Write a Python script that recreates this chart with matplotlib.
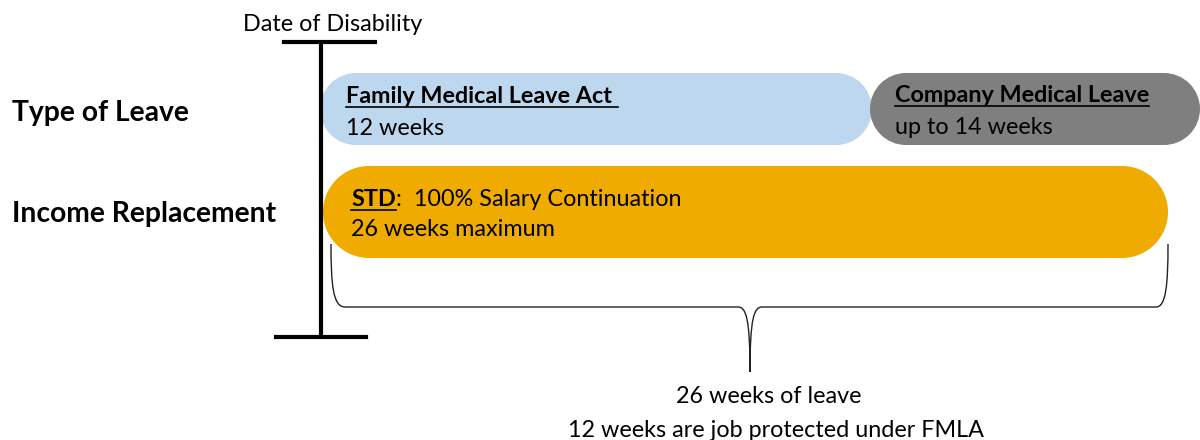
import matplotlib.pyplot as plt
from matplotlib.patches import Rectangle, Circle, PathPatch
from matplotlib.path import Path

plt.rcParams['font.family'] = ['Lato', 'DejaVu Sans']

# content
row_labels = ['Type of Leave', 'Income Replacement']
leave_names = ['Family Medical Leave Act ', 'Company Medical Leave', 'STD']
leave_weeks = [12, 14, 26]
leave_notes = ['{} weeks', 'up to {} weeks', '{} weeks maximum']
std_detail = ':  100% Salary Continuation'
leave_colors = ['#BDD7EE', '#7F7F7F', '#EFAB00']
leave_rows = [0, 0, 1]
marker_label = 'Date of Disability'
summary = ['26 weeks of leave', '12 weeks are job protected under FMLA']

# layout (pixel coordinates, y down)
row_y = [(73, 145), (166, 258)]
bar_x = [(320, 872), (870, 1200), (323, 1168)]
label_y = [121, 222]
timeline_x = 321
fs = 16.8

fig = plt.figure(figsize=(12, 4.4), dpi=100)
ax = fig.add_axes([0, 0, 1, 1])
ax.set_xlim(0, 1200)
ax.set_ylim(440, 0)
ax.axis('off')

# row labels
for lab, y in zip(row_labels, label_y):
    ax.text(12, y, lab, fontsize=20.3, fontweight='bold', va='baseline', ha='left')

# bars as stadium shapes
for (x0, x1), r, c in zip(bar_x, leave_rows, leave_colors):
    y0, y1 = row_y[r]
    rad = (y1 - y0) / 2
    ax.add_patch(Rectangle((x0 + rad, y0), x1 - x0 - 2 * rad, y1 - y0, fc=c, ec='none', zorder=1))
    ax.add_patch(Circle((x0 + rad, y0 + rad), rad, fc=c, ec='none', zorder=1))
    ax.add_patch(Circle((x1 - rad, y0 + rad), rad, fc=c, ec='none', zorder=1))

# timeline marker
ax.plot([timeline_x, timeline_x], [42, 337], color='black', lw=3, zorder=5, solid_capstyle='butt')
ax.plot([284, 375], [42, 42], color='black', lw=3, zorder=5)
ax.plot([276, 366], [337, 337], color='black', lw=3, zorder=5)
ax.text(333, 31, marker_label, fontsize=fs, ha='center', va='baseline')

# bar texts
title_pos = [(346, 103), (895, 102), (351, 206)]
note_pos = [(346, 135), (895, 134), (351, 236)]
titles = []
for name, (x, y) in zip(leave_names, title_pos):
    titles.append(ax.text(x, y, name, fontsize=fs, fontweight='bold', va='baseline', zorder=3))
for note, w, (x, y) in zip(leave_notes, leave_weeks, note_pos):
    ax.text(x, y, note.format(w), fontsize=fs, va='baseline', zorder=3)

fig.canvas.draw()
renderer = fig.canvas.get_renderer()
inv = ax.transData.inverted()
for t, (x, y) in zip(titles, title_pos):
    bb = t.get_window_extent(renderer)
    (ax0, _), (ax1, _) = inv.transform([[bb.x0, bb.y0], [bb.x1, bb.y1]])
    ax.plot([ax0, ax1], [y + 4, y + 4], color='black', lw=1.2, zorder=3)
bb = titles[2].get_window_extent(renderer)
std_end = inv.transform([[bb.x1, bb.y0]])[0][0]
ax.text(std_end, title_pos[2][1], std_detail, fontsize=fs, va='baseline', zorder=3)

# brace under the STD bar
left = bar_x[2][0] + 8
right = bar_x[2][1]
mid = 750
top, base, tip = 244, 307, 372
verts = [(left, top), (left, 285), (left + 2, base), (left + 14, base),
         (mid - 12, base),
         (mid - 4, base), (mid, base + 11), (mid, tip),
         (mid, base + 11), (mid + 4, base), (mid + 12, base),
         (right - 12, base),
         (right - 2, base), (right, 285), (right, top)]
codes = [Path.MOVETO, Path.CURVE4, Path.CURVE4, Path.CURVE4,
         Path.LINETO,
         Path.CURVE4, Path.CURVE4, Path.CURVE4,
         Path.CURVE4, Path.CURVE4, Path.CURVE4,
         Path.LINETO,
         Path.CURVE4, Path.CURVE4, Path.CURVE4]
ax.add_patch(PathPatch(Path(verts, codes), fc='none', ec='#222222', lw=1.0))

ax.text(769, 403, summary[0], fontsize=fs, ha='center', va='baseline')
ax.text(776, 437, summary[1], fontsize=fs, ha='center', va='baseline')

fig.savefig('out.png', dpi=100)
